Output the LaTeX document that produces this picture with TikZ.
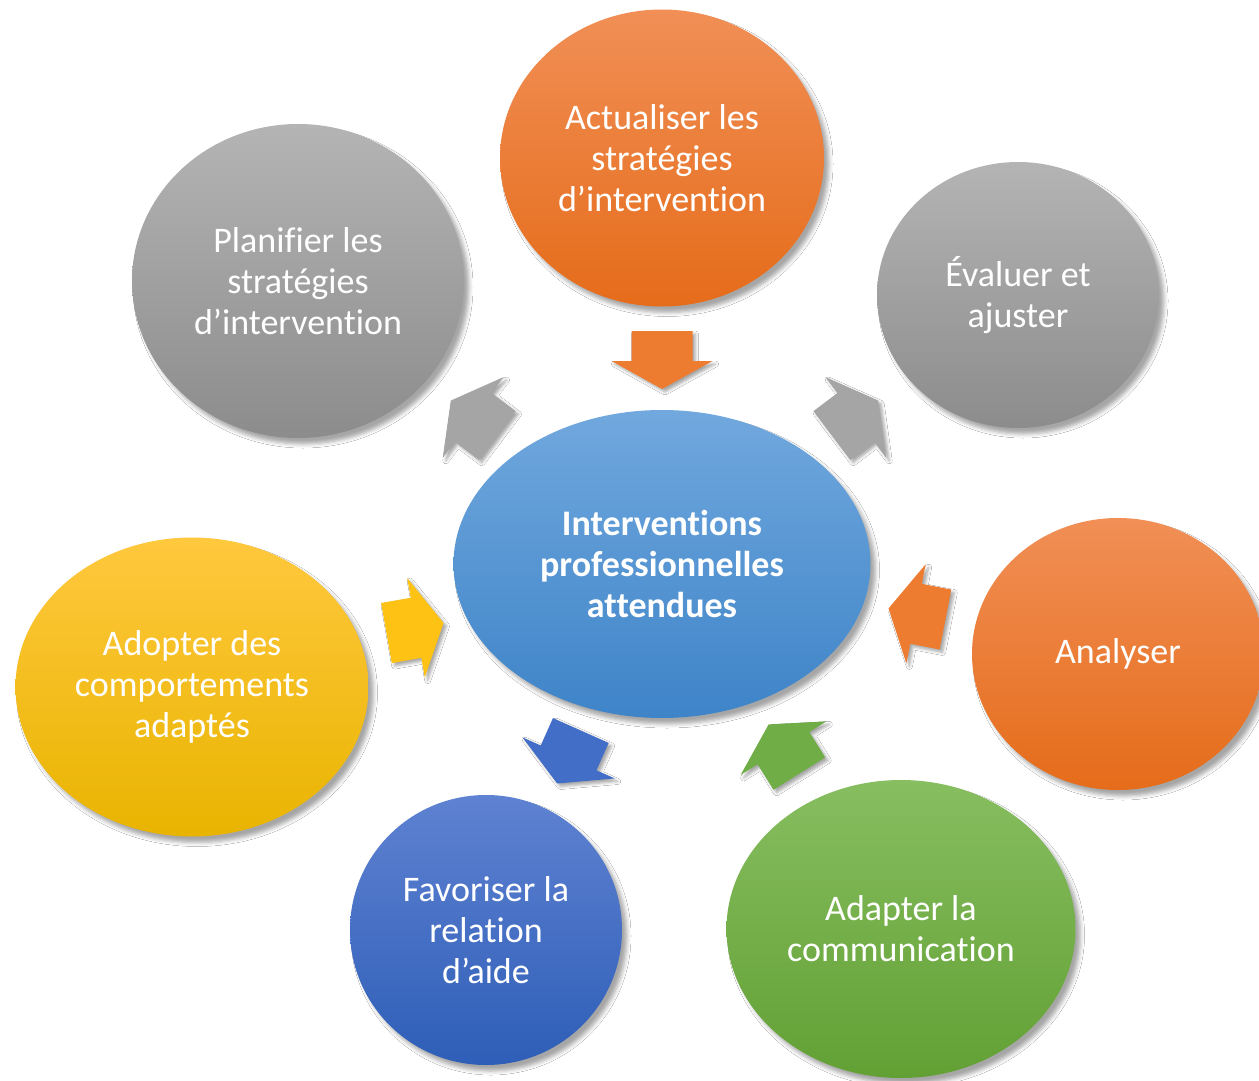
\documentclass[tikz,border=0pt]{standalone}
\usepackage{fontspec}
\setmainfont{Carlito}[RawFeature={-liga;-clig;-calt;-dlig}]
\usetikzlibrary{shapes.geometric,shadows.blur}
\definecolor{orT}{RGB}{241,143,86}
\definecolor{orB}{RGB}{229,108,26}
\definecolor{orM}{RGB}{238,124,48}
\definecolor{grT}{RGB}{180,180,180}
\definecolor{grB}{RGB}{140,140,140}
\definecolor{grM}{RGB}{165,165,165}
\definecolor{cbT}{RGB}{113,168,222}
\definecolor{cbB}{RGB}{62,132,200}
\definecolor{yeT}{RGB}{255,200,62}
\definecolor{yeB}{RGB}{233,180,0}
\definecolor{yeM}{RGB}{253,194,20}
\definecolor{dbT}{RGB}{95,130,210}
\definecolor{dbB}{RGB}{46,94,183}
\definecolor{dbM}{RGB}{66,110,200}
\definecolor{gnT}{RGB}{135,190,96}
\definecolor{gnB}{RGB}{98,160,52}
\definecolor{gnM}{RGB}{112,173,71}
\tikzset{
  bubble/.style={ellipse, inner sep=0pt, text=white, align=center,
    font=\fontsize{36}{41}\selectfont,
    blur shadow={shadow xshift=5pt, shadow yshift=-6pt, shadow blur radius=4pt, shadow opacity=35}},
  orangeb/.style={top color=orT, bottom color=orB},
  grayb/.style={top color=grT, bottom color=grB},
  centreb/.style={top color=cbT, bottom color=cbB},
  yellowb/.style={top color=yeT, bottom color=yeB},
  blueb/.style={top color=dbT, bottom color=dbB},
  greenb/.style={top color=gnT, bottom color=gnB},
  arrowshape/.style={blur shadow={shadow xshift=3pt, shadow yshift=-3pt, shadow blur radius=3pt, shadow opacity=35}}
}
\newcommand\blkarrow[3]{%
  \path[arrowshape, fill=#3, shift={#1}, rotate=#2]
    (-29,-30.5) -- (1,-30.5) -- (1,-50.5) -- (29,0) -- (1,50.5) -- (1,30.5) -- (-29,30.5) -- cycle;}
\begin{document}
\begin{tikzpicture}[x=1pt,y=-1pt]
\useasboundingbox (0,0) rectangle (1259,1081);
\fill[white] (0,0) rectangle (1259,1081);

% arrows
\blkarrow{(662,360)}{-90}{orM}
\blkarrow{(474,418)}{143}{grM}
\blkarrow{(855,418)}{37}{grM}
\blkarrow{(917,614)}{169}{orM}
\blkarrow{(415,628)}{10}{yeM}
\blkarrow{(569,757)}{246}{dbM}
\blkarrow{(784,749)}{122}{gnM}

% bubbles
\node[bubble, centreb, minimum width=417pt, minimum height=308pt, font=\fontsize{36}{41}\selectfont\bfseries] (centre) at (662,564)
  {Interventions\\professionnelles\\attendues};
\node[bubble, orangeb, minimum width=324pt, minimum height=297pt] (actualiser) at (662,158)
  {Actualiser les\\stratégies\\d’intervention};
\node[bubble, grayb, minimum width=332pt, minimum height=314pt] (planifier) at (298,281)
  {Planifier les\\stratégies\\d’intervention};
\node[bubble, grayb, minimum width=282pt, minimum height=266pt] (evaluer) at (1018,295)
  {Évaluer et\\ajuster};
\node[bubble, orangeb, minimum width=292pt, minimum height=272pt] (analyser) at (1118,654)
  {Analyser};
\node[bubble, yellowb, minimum width=353pt, minimum height=299pt] (adopter) at (192,687)
  {Adopter des\\comportements\\adaptés};
\node[bubble, blueb, minimum width=272pt, minimum height=270pt] (favoriser) at (486,930)
  {Favoriser la\\relation\\d’aide};
\node[bubble, greenb, minimum width=349pt, minimum height=298pt] (adapter) at (901,929)
  {Adapter la\\communication};
\end{tikzpicture}
\end{document}
